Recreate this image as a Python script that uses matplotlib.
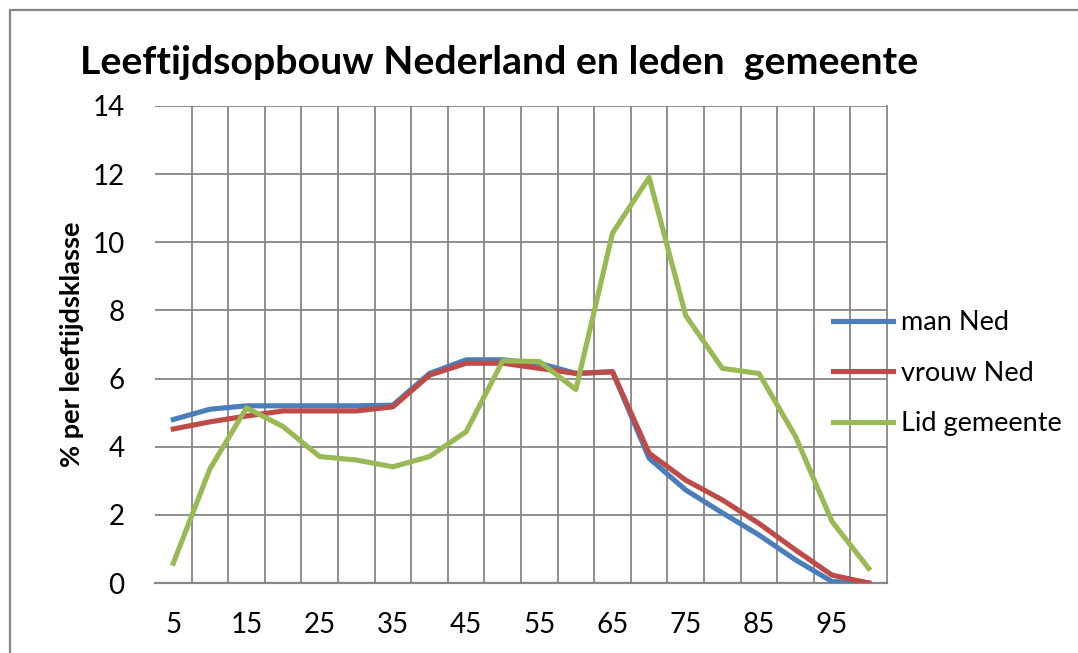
import matplotlib
matplotlib.use("Agg")
import matplotlib.pyplot as plt
from matplotlib.patches import Rectangle
import numpy as np

# --- data ---
leeftijd = [5, 10, 15, 20, 25, 30, 35, 40, 45, 50, 55, 60, 65, 70, 75, 80, 85, 90, 95, 100]
man_ned = [4.8, 5.1, 5.2, 5.2, 5.2, 5.2, 5.22, 6.15, 6.55, 6.55, 6.45, 6.15, 6.2, 3.66, 2.73, 2.06, 1.41, 0.68, 0.04, 0.0]
vrouw_ned = [4.52, 4.73, 4.9, 5.05, 5.05, 5.05, 5.17, 6.1, 6.45, 6.45, 6.3, 6.15, 6.2, 3.81, 3.02, 2.44, 1.75, 0.97, 0.23, 0.0]
lid_gemeente = [0.58, 3.35, 5.14, 4.59, 3.71, 3.61, 3.41, 3.71, 4.44, 6.52, 6.5, 5.68, 10.27, 11.9, 7.85, 6.3, 6.15, 4.3, 1.8, 0.43]
series_names = ["man Ned", "vrouw Ned", "Lid gemeente"]
series_colors = ["#4A7EBB", "#BE4B48", "#98B954"]
y_ticks = [0, 2, 4, 6, 8, 10, 12, 14]

plt.rcParams['font.family'] = ['Lato', 'DejaVu Sans']
GRID = "#868686"

W, H = 1078, 653
fig = plt.figure(figsize=(W / 100, H / 100), dpi=100)
fig.patch.set_facecolor("white")

# outer chart border (runs off the right and bottom of the picture)
fig.patches.append(Rectangle((10 / W, -0.1), 1.2, 1.1 - 10 / H, transform=fig.transFigure,
                             fill=False, edgecolor=GRID, linewidth=1.6))

ax = fig.add_axes([155 / W, 1 - 583 / H, 732 / W, 477 / H])
pos = np.arange(len(leeftijd))

for vals, name, col in zip([man_ned, vrouw_ned, lid_gemeente], series_names, series_colors):
    ax.plot(pos, vals, color=col, linewidth=3.7, label=name, solid_joinstyle="round", zorder=3)

ax.set_xlim(-0.5, len(leeftijd) - 0.5)
ax.set_ylim(0, 14)

# category axis: labels every other class, grid lines between the classes
ax.set_xticks(pos[::2])
ax.set_xticklabels([str(v) for v in leeftijd[::2]])
ax.set_xticks(pos[:-1] + 0.5, minor=True)
ax.set_yticks(y_ticks)
ax.set_yticklabels([str(v) for v in y_ticks])
ax.tick_params(axis="both", which="both", length=0, labelsize=20)
ax.tick_params(axis="x", pad=21)
ax.tick_params(axis="y", pad=22)
ax.grid(True, axis="y", color=GRID, linewidth=1.3)
ax.grid(True, axis="x", which="minor", color=GRID, linewidth=1.3)
ax.set_axisbelow(True)

for side in ["left", "top"]:
    ax.spines[side].set_visible(False)
ax.spines["right"].set_color(GRID)
ax.spines["right"].set_linewidth(1.3)
ax.spines["bottom"].set_color(GRID)
ax.spines["bottom"].set_linewidth(1.6)

ax.set_ylabel("% per leeftijdsklasse", fontsize=19.5, fontweight="bold", labelpad=6)
fig.text(80 / W, 1 - 62 / H, "Leeftijdsopbouw Nederland en leden  gemeente",
         fontsize=28.3, fontweight="bold", ha="left", va="center")

fig.legend(loc="upper left", bbox_to_anchor=(833 / W, 1 - 310 / H), frameon=False,
           fontsize=19.5, handlelength=2.2, handletextpad=0.3, labelspacing=0.95, borderpad=0,
           borderaxespad=0)

fig.savefig("out.png", dpi=100, facecolor="white")
